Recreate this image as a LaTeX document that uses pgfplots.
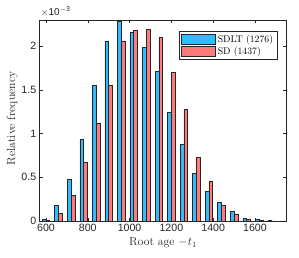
\documentclass[border=0pt]{standalone}
\usepackage{fontspec}
\setsansfont{Liberation Sans}
\usepackage{pgfplots}
\pgfplotsset{compat=1.18}
\definecolor{sdltblue}{RGB}{51,187,255}
\definecolor{sdred}{RGB}{255,122,122}
\definecolor{axgray}{RGB}{38,38,38}
\begin{document}
\begin{tikzpicture}
\begin{axis}[
  scale only axis,
  width=246.6pt, height=201pt,
  xmin=570, xmax=1750,
  ymin=0, ymax=2.3,
  xtick={600,800,...,1600},
  ytick={0,0.5,1,1.5,2},
  tick align=inside,
  major tick length=3pt,
  axis line style={axgray, line width=0.5pt},
  every tick/.style={axgray, line width=0.5pt},
  /pgf/number format/assume math mode=true,
  /pgf/number format/1000 sep={},
  ticklabel style={font=\fontsize{10.6}{12}\selectfont\sffamily, text=axgray},
  xlabel={Root age $-t_1$},
  ylabel={Relative frequency},
  label style={font=\fontsize{11.8}{13}\selectfont, text=axgray},
  xlabel style={at={(axis description cs:0.5,-0.109)}, anchor=center},
  ylabel style={at={(axis description cs:-0.112,0.51)}, anchor=center},
  legend style={at={(axis description cs:0.9635,0.945)}, anchor=north east,
    font=\fontsize{9.7}{11}\selectfont, draw=axgray, line width=0.5pt,
    inner xsep=2pt, inner ysep=1.5pt, row sep=-0.5pt,
    cells={anchor=west}},
  legend image code/.code={\draw[#1, line width=0.6pt] (0pt,-4.7pt) rectangle (34pt,4.7pt);},
]
\addplot[ybar, bar width=18, bar shift=-9, fill=sdltblue, draw=black!85, line width=0.6pt] coordinates {
(600,0.020) (660,0.180) (720,0.477) (780,0.938) (840,1.548) (900,2.060)
(960,2.288) (1020,2.155) (1080,1.987) (1140,1.708) (1200,1.247) (1260,0.877)
(1320,0.548) (1380,0.335) (1440,0.210) (1500,0.106) (1560,0.031) (1620,0.015)
(1680,0.004) (1740,0.002)
};
\addlegendentry{SDLT (1276)}
\addplot[ybar, bar width=18, bar shift=9, fill=sdred, draw=black!85, line width=0.6pt] coordinates {
(600,0.010) (660,0.090) (720,0.290) (780,0.670) (840,1.113) (900,1.548)
(960,2.060) (1020,2.185) (1080,2.197) (1140,2.100) (1200,1.700) (1260,1.278)
(1320,0.729) (1380,0.460) (1440,0.183) (1500,0.080) (1560,0.019) (1620,0.005)
(1680,0.002) (1740,0.001)
};
\addlegendentry{SD (1437)}
\coordinate (sw) at (rel axis cs:0,0);
\coordinate (ne) at (rel axis cs:1,1);
\coordinate (nw) at (rel axis cs:0,1);
\end{axis}
\node[anchor=south west, inner sep=0pt, text=axgray, font=\fontsize{10}{11}\selectfont\sffamily] at ([xshift=1pt,yshift=3pt]nw) {$\times\mathsf{10}^{\mathsf{-3}}$};
\pgfresetboundingbox
\path ([xshift=-39.7pt,yshift=-36pt]sw) rectangle ([xshift=12.7pt,yshift=20pt]ne);
\end{tikzpicture}
\end{document}
